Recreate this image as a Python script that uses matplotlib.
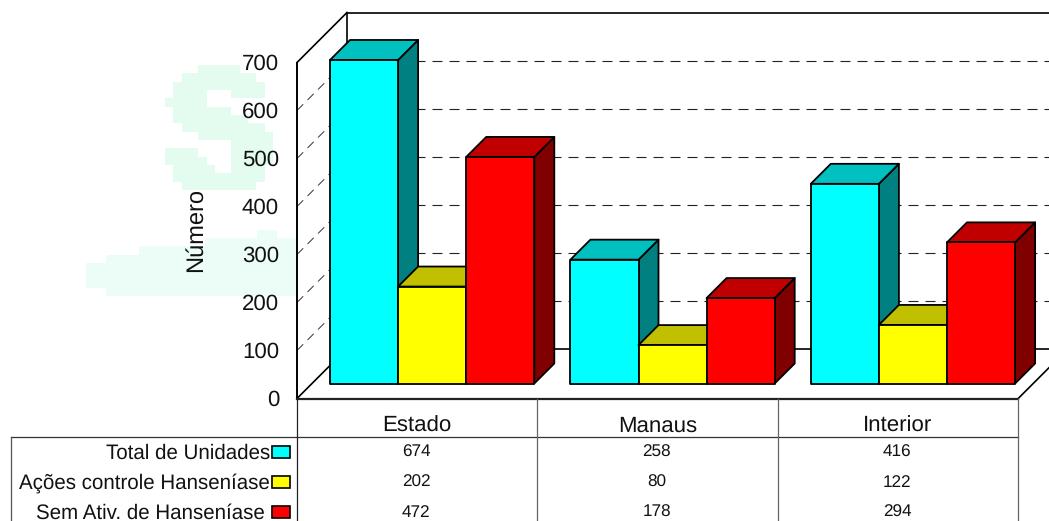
import numpy as np
import matplotlib
matplotlib.use('Agg')
import matplotlib.pyplot as plt
from matplotlib.colors import ListedColormap
from matplotlib.patches import Polygon, Rectangle

categories = ['Estado', 'Manaus', 'Interior']
series_names = ['Total de Unidades', 'Ações controle Hanseníase', 'Sem Ativ. de Hanseníase ']
total_unidades = [674, 258, 416]
acoes_controle = [202, 80, 122]
sem_atividade = [472, 178, 294]
y_ticks = [0, 100, 200, 300, 400, 500, 600, 700]

series = [total_unidades, acoes_controle, sem_atividade]
front_colors = ['#00ffff', '#ffff00', '#ff0000']
top_colors = ['#00c0c0', '#c0c000', '#c00000']
side_colors = ['#008080', '#808000', '#800000']

plt.rcParams['font.family'] = ['Liberation Sans', 'DejaVu Sans']
plt.rcParams['text.hinting'] = 'no_hinting'

# one category is 240.4 px wide, 100 units are 48 px high
CAT_W = 240.4
UNIT_H = 0.48
X0 = 297
Y0 = 383.5
W, H = 1049, 521


def X(px):
    return (px - X0) / CAT_W


def Y(px):
    return (Y0 - px) / UNIT_H


fig = plt.figure(figsize=(W / 100, H / 100), dpi=100)
ax = fig.add_axes([0, 0, 1, 1])
ax.axis('off')

# faint logo behind the chart, coarse blocks
logo_s = [
    '....#####....',
    '..#########..',
    '.###########.',
    '.####...####.',
    '#####........',
    '.#######.....',
    '.#########...',
    '..##########.',
    '....#########',
    '........#####',
    '####....#####',
    '#####...#####',
    '.#####..####.',
    '.###########.',
    '..#########..',
]
logo_s = np.array([[c == '#' for c in r] for r in logo_s], dtype=float)
logo_cmap = ListedColormap(['#ffffff', '#e4fcf0'])
ax.imshow(logo_s, cmap=logo_cmap, vmin=0, vmax=1, aspect='auto', interpolation='nearest',
          extent=(X(165), X(273), Y(190), Y(65)), zorder=0)

logo_band = [
    '.......................................###...',
    '...............................##############',
    '.....................########################',
    '................#############################',
    '.............################################',
    '.............################################',
    '.............################################',
    '................#############################',
]
logo_band = np.array([[c == '#' for c in r] for r in logo_band], dtype=float)
band_cmap = ListedColormap(['#ffffff', '#ebfdf6'])
ax.imshow(logo_band, cmap=band_cmap, vmin=0, vmax=1, aspect='auto', interpolation='nearest',
          extent=(X(0), X(297), Y(296), Y(230)), zorder=0)

# walls and floor
depth_x = 50 / CAT_W
depth_y = 50 / UNIT_H
floor_y = -15 / UNIT_H
back_y = floor_y + depth_y
dash = (0, (9, 6.3))
xmax = X(W + 5)

for t in y_ticks[1:-1]:
    ax.plot([0, depth_x], [floor_y + t, back_y + t], color='#333333', lw=0.7, ls=dash, zorder=1)
    ax.plot([depth_x, xmax], [back_y + t, back_y + t], color='#222222', lw=0.8, ls=dash, zorder=1)
top_front = floor_y + y_ticks[-1]
top_back = back_y + y_ticks[-1]
ax.plot([depth_x, xmax], [top_back, top_back], color='black', lw=1.2, zorder=2)
ax.plot([depth_x, depth_x], [back_y, top_back], color='black', lw=1.2, zorder=2)
ax.plot([0, depth_x], [top_front, top_back], color='black', lw=1.2, zorder=2)
ax.plot([0, 0], [floor_y, top_front], color='black', lw=1.4, zorder=2)
ax.plot([depth_x, xmax], [back_y, back_y], color='black', lw=1.2, zorder=2)
ax.plot([0, depth_x], [floor_y, back_y], color='black', lw=1.2, zorder=2)
ax.plot([3, 3 + depth_x], [floor_y, back_y], color='black', lw=1.2, zorder=2)

# bars
bar_w = 68.1 / CAT_W
offset = 33 / CAT_W
dx = 20 / CAT_W
dy = 20 / UNIT_H
z = 3
for c in range(len(categories)):
    for s, vals in enumerate(series):
        x0 = c + offset + s * bar_w
        x1 = x0 + bar_w
        v = vals[c]
        faces = [
            ([(x1, 0), (x1 + dx, dy), (x1 + dx, v + dy), (x1, v)], side_colors[s]),
            ([(x0, v), (x1, v), (x1 + dx, v + dy), (x0 + dx, v + dy)], top_colors[s]),
            ([(x0, 0), (x1, 0), (x1, v), (x0, v)], front_colors[s]),
        ]
        for pts, col in faces:
            ax.add_patch(Polygon(pts, closed=True, facecolor=col, edgecolor='black',
                                 lw=1.3, joinstyle='round', zorder=z))
            z += 1

# y axis text
for t in y_ticks:
    ax.text(X(279), floor_y + t + 1, str(t), ha='right', va='center_baseline', fontsize=16,
            color='#111111', zorder=50)
ax.text(X(196), Y(230), 'Número', rotation=90, ha='center', va='center', fontsize=17,
        color='#111111', zorder=50)

# data table under the chart
table_top = floor_y
row_line = Y(437)
table_bottom = Y(H + 5)
z_t = 40
ax.plot([0, 3], [table_top, table_top], color='#222222', lw=1.6, zorder=z_t)
ax.plot([X(11), 3], [row_line, row_line], color='#333333', lw=0.9, zorder=z_t)
ax.plot([X(11), X(11)], [row_line, table_bottom], color='#555555', lw=0.9, zorder=z_t)
ax.plot([0, 0], [table_top, table_bottom], color='#222222', lw=0.9, zorder=z_t)
for i in range(1, 4):
    ax.plot([i, i], [table_top, table_bottom], color='#666666', lw=0.9, zorder=z_t)

for c, name in enumerate(categories):
    ax.text(c + 0.5, Y(426), name, ha='center', va='center', fontsize=16, color='#111111', zorder=50)

row_ys = [451, 481.5, 511.5]
for s, vals in enumerate(series):
    ax.text(X(270), Y(row_ys[s] + 2), series_names[s], ha='right', va='center', fontsize=14.8,
            color='#111111', zorder=50)
    ax.add_patch(Rectangle((X(272), Y(row_ys[s] + 6.5)), 18 / CAT_W, 12 / UNIT_H, facecolor=front_colors[s],
                           edgecolor='black', lw=1.2, zorder=50))
    for c, v in enumerate(vals):
        ax.text(c + 0.5 - 1 / CAT_W, Y(row_ys[s] + 1), str(v), ha='center', va='center', fontsize=12.3,
                color='#111111', zorder=50)

ax.set_xlim(X(0), X(W))
ax.set_ylim(Y(H), Y(0))

fig.savefig('out.png', dpi=100, facecolor='white')
